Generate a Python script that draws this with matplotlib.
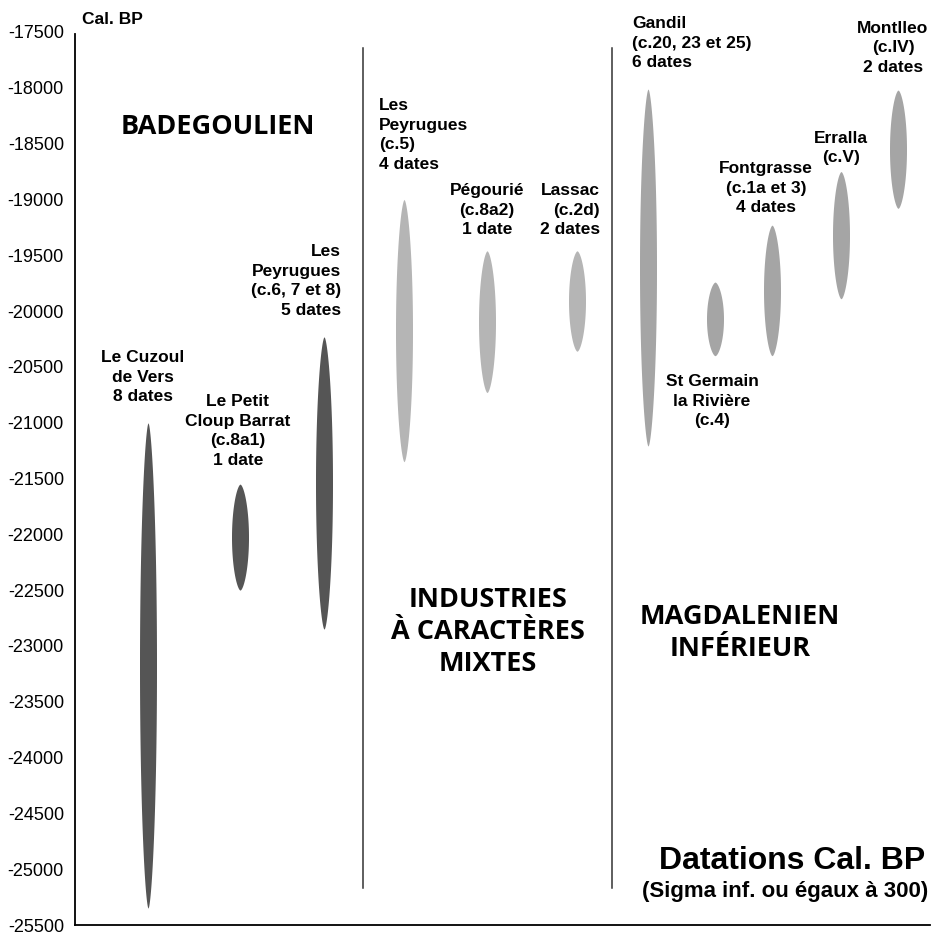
import matplotlib
matplotlib.use("Agg")
import matplotlib.pyplot as plt
import numpy as np

# --- données (Cal. BP) ---
sites = [
    "Le Cuzoul\nde Vers\n8 dates",
    "Le Petit\nCloup Barrat\n(c.8a1)\n1 date",
    "Les\nPeyrugues\n(c.6, 7 et 8)\n5 dates",
    "Les\nPeyrugues\n(c.5)\n4 dates",
    "Pégourié\n(c.8a2)\n1 date",
    "Lassac\n(c.2d)\n2 dates",
    "Gandil\n(c.20, 23 et 25)\n6 dates",
    "St Germain\nla Rivière\n(c.4)",
    "Fontgrasse\n(c.1a et 3)\n4 dates",
    "Erralla\n(c.V)",
    "Montlleo\n(c.IV)\n2 dates",
]
date_haute = [-21000, -21550, -20230, -19000, -19460, -19460, -18010, -19740, -19230, -18750, -18020]
date_basse = [-25350, -22500, -22850, -21350, -20730, -20360, -21210, -20400, -20400, -19890, -19080]
groupe = ["bad", "bad", "bad", "mix", "mix", "mix", "mag", "mag", "mag", "mag", "mag"]

yticks = list(range(-25500, -17499, 500))

# --- mise en page (pixels de l'image) ---
W, H = 935, 934
Y0_PX, Y1_PX = 32, 925          # -17500 / -25500
X0_PX, X1_PX = 75, 930

x_centres = [148, 240, 324, 404, 487, 577, 648, 715, 772, 841, 898]
couleurs = {"bad": "#555555", "mix": "#b5b5b5", "mag": "#a5a5a5"}
largeur = 17

# texte : (x, y_px, ha)
pos_labels = [
    (143, 377, "center"),
    (238, 431, "center"),
    (341, 281, "right"),
    (379, 135, "left"),
    (487, 210, "center"),
    (600, 210, "right"),
    (632, 43, "left"),
    (712, 401, "center"),
    (766, 188, "center"),
    (841, 148, "center"),
    (893, 48, "center"),
]


def py(p):
    """pixel vertical -> valeur Cal. BP"""
    return -17500 - (p - Y0_PX) * 8000 / (Y1_PX - Y0_PX)


fig = plt.figure(figsize=(W / 100, H / 100), dpi=100)
ax = fig.add_axes([X0_PX / W, 1 - Y1_PX / H, (X1_PX - X0_PX) / W, (Y1_PX - Y0_PX) / H])
ax.set_xlim(X0_PX, X1_PX)
ax.set_ylim(-25500, -17500)

# ellipses effilées
for xc, hi, lo, g in zip(x_centres, date_haute, date_basse, groupe):
    yy = np.linspace(lo, hi, 300)
    mid = (hi + lo) / 2
    half = (hi - lo) / 2
    s = (yy - mid) / half
    prof = np.clip(1 - s ** 2, 0, None) ** 0.62 * largeur / 2
    ax.fill_betweenx(yy, xc - prof, xc + prof, color=couleurs[g], lw=0)

for lab, (x, yp, ha) in zip(sites, pos_labels):
    ax.text(x, py(yp), lab, ha=ha, va="center", multialignment=ha,
            fontsize=12.5, fontweight="bold", family="Liberation Sans",
            linespacing=1.4)

# séparateurs
for xs in (363, 612):
    ax.plot([xs, xs], [py(48), py(888)], color="#333333", lw=1.1)

# titres de groupes
titre_kw = dict(ha="center", va="center", fontsize=19.5, fontweight="bold",
                family="Open Sans", linespacing=1.3)
ax.text(218, py(127), "BADEGOULIEN", **titre_kw)
ax.text(488, py(632), "INDUSTRIES\nÀ CARACTÈRES\nMIXTES", **titre_kw)
ax.text(740, py(633), "MAGDALENIEN\nINFÉRIEUR", **titre_kw)

ax.text(925, py(861), "Datations Cal. BP", ha="right", va="center",
        fontsize=23, fontweight="bold", family="Liberation Sans")
ax.text(928, py(891), "(Sigma inf. ou égaux à 300)", ha="right", va="center",
        fontsize=16, fontweight="bold", family="Liberation Sans")

ax.text(82, py(20), "Cal. BP", ha="left", va="center",
        fontsize=12.5, fontweight="bold", family="Liberation Sans")

# axes
for sp in ("top", "right"):
    ax.spines[sp].set_visible(False)
ax.spines["left"].set_linewidth(1.3)
ax.spines["bottom"].set_linewidth(1.3)
ax.spines["left"].set_bounds(-25500, py(34))
ax.set_xticks([])
ax.set_yticks(yticks)
ax.set_yticklabels([str(v) for v in yticks], fontsize=13, family="Liberation Sans")
ax.tick_params(axis="y", length=0, pad=8)

fig.savefig("out.png", dpi=100)
